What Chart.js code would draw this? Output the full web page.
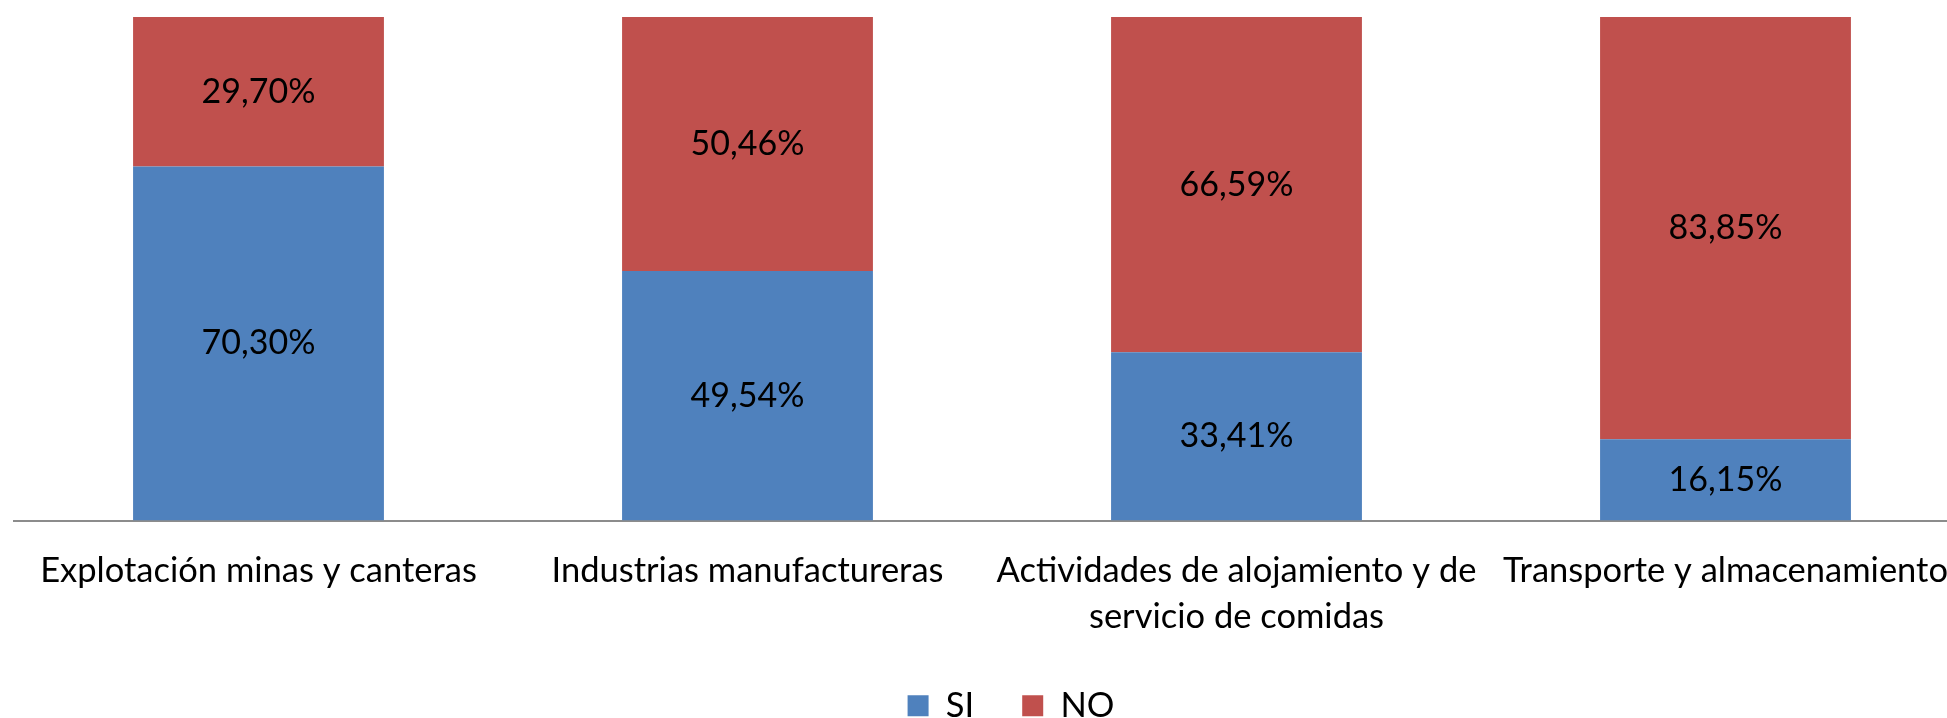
<!DOCTYPE html>
<html>
<head>
<meta charset="utf-8">
<script src="https://cdn.jsdelivr.net/npm/chart.js@4"></script>
<style>
  html, body { margin: 0; padding: 0; background: #fff; overflow: hidden; }
  #wrap { position: relative; width: 2008px; height: 733px; }
</style>
</head>
<body>
<div id="wrap"><canvas id="diagram"></canvas></div>
<script>
"use strict"

// kategorier (etiketter på x-axeln)
const categories = [
    "Explotación minas y canteras",
    "Industrias manufactureras",
    ["Actividades de alojamiento y de", "servicio de comidas"],
    "Transporte y almacenamiento"
];

const seriesNames = ["SI", "NO"];
const siValues = [70.30, 49.54, 33.41, 16.15]; // blå
const noValues = [29.70, 50.46, 66.59, 83.85]; // röd

const fontFamily = "Lato, 'Open Sans', sans-serif";

// ritar procenttexten mitt i varje stapel
const barLabels = {
    id: "barLabels",
    afterDatasetsDraw(chart) {
        const ctx = chart.ctx;
        ctx.save();
        ctx.font = "34px " + fontFamily;
        ctx.fillStyle = "#000";
        ctx.textAlign = "center";
        ctx.textBaseline = "middle";
        chart.data.datasets.forEach((ds, i) => {
            chart.getDatasetMeta(i).data.forEach((bar, j) => {
                let txt = ds.data[j].toFixed(2).replace(".", ",") + "%";
                ctx.fillText(txt, bar.x, (bar.y + bar.base) / 2);
            });
        });
        ctx.restore();
    }
};

let diagram = document.getElementById("diagram");

new Chart(diagram, {
    type: "bar",
    data: {
        labels: categories,
        datasets: [{
            label: seriesNames[0],
            data: siValues,
            backgroundColor: "#4F81BD"
        }, {
            label: seriesNames[1],
            data: noValues,
            backgroundColor: "#C0504D"
        }]
    },
    options: {
        responsive: true,
        maintainAspectRatio: false,
        animation: false,
        layout: { padding: { left: 14, right: 0, top: 17, bottom: 0 } },
        datasets: {
            bar: { barPercentage: 0.513, categoryPercentage: 1 }
        },
        scales: {
            x: {
                stacked: true,
                grid: { display: false, drawTicks: false },
                border: { color: "#8C8C8C", width: 2 },
                ticks: {
                    color: "#000",
                    padding: 27,
                    maxRotation: 0,
                    autoSkip: false,
                    font: { family: fontFamily, size: 34.5, lineHeight: 1.333 }
                },
                afterFit(scale) { scale.height = 120; }
            },
            y: {
                stacked: true,
                position: "right", // osynlig, flyttar legenden lite åt höger
                min: 0,
                max: 100,
                ticks: { display: false },
                grid: { display: false, drawTicks: false },
                border: { display: false },
                afterFit(scale) { scale.width = 38; }
            }
        },
        plugins: {
            legend: {
                position: "bottom",
                labels: {
                    color: "#000",
                    boxWidth: 21,
                    boxHeight: 21,
                    padding: 48,
                    font: { family: fontFamily, size: 34.5 }
                }
            },
            tooltip: { enabled: false }
        }
    },
    plugins: [barLabels]
});
</script>
</body>
</html>
